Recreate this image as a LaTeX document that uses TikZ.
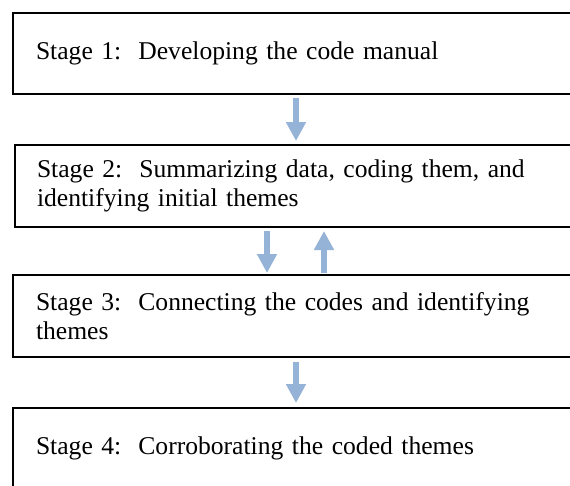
\documentclass[tikz,border=0pt]{standalone}
\usepackage{fontspec}
\setmainfont{Liberation Serif}
\usetikzlibrary{arrows.meta}
\definecolor{arrowblue}{RGB}{149,179,215}
\begin{document}
\begin{tikzpicture}[x=1pt,y=-1pt,
  stagebox/.style={draw=black, line width=2pt, rectangle, anchor=north west,
    outer sep=0pt, inner ysep=0pt, align=left,
    font=\fontsize{25.6}{29.5}\selectfont},
  flowarrow/.style={draw=arrowblue, line width=6pt,
    -{Triangle[width=19pt,length=19pt]}}]
\useasboundingbox (0,0) rectangle (570,485);
\clip (0,0) rectangle (570,485);
\fill[white] (0,0) rectangle (570,485);

\node[stagebox, inner xsep=23pt, text width=541pt, minimum height=81pt] (s1) at (13,13)
  {Stage 1:\ \ Developing the code manual};
\node[stagebox, inner xsep=22pt, text width=541pt, minimum height=82pt] (s2) at (15,145)
  {Stage 2:\ \ Summarizing data, coding them, and\\identifying initial themes};
\node[stagebox, inner xsep=23pt, text width=541pt, minimum height=82pt] (s3) at (13,275)
  {Stage 3:\ \ Connecting the codes and identifying\\themes};
\node[stagebox, inner xsep=23pt, text width=541pt, minimum height=81pt] (s4) at (13,408)
  {Stage 4:\ \ Corroborating the coded themes};

\coordinate (xa) at (296,0);
\coordinate (xb) at (267,0);
\coordinate (xc) at (324,0);

\draw[flowarrow, shorten <=4pt, shorten >=4pt] (s1.south -| xa) -- (s2.north -| xa);
\draw[flowarrow, shorten <=4pt, shorten >=2pt] (s2.south -| xb) -- (s3.north -| xb);
\draw[flowarrow, shorten <=2pt, shorten >=4pt] (s3.north -| xc) -- (s2.south -| xc);
\draw[flowarrow, shorten <=5pt, shorten >=5pt] (s3.south -| xa) -- (s4.north -| xa);
\end{tikzpicture}
\end{document}
